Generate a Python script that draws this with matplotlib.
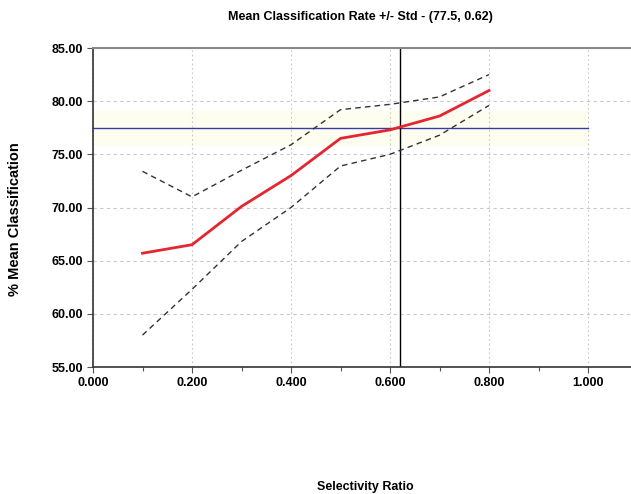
import matplotlib
matplotlib.use("Agg")
import matplotlib.pyplot as plt
from matplotlib.ticker import MultipleLocator, FormatStrFormatter

plt.rcParams['font.family'] = ['Liberation Sans', 'DejaVu Sans']

ratio = [0.1, 0.2, 0.3, 0.4, 0.5, 0.6, 0.7, 0.8]
mean_rate = [65.7, 66.5, 70.1, 73.0, 76.5, 77.3, 78.6, 81.0]
upper_std = [73.4, 71.0, 73.5, 75.9, 79.2, 79.7, 80.4, 82.5]
lower_std = [58.0, 62.3, 66.8, 70.0, 73.9, 75.0, 76.8, 79.6]
ref_rate = 77.5
ref_ratio = 0.62
band = 1.6
title = "Mean Classification Rate +/- Std - (77.5, 0.62)"

W, H = 631, 494
fig = plt.figure(figsize=(W/100, H/100), dpi=100)
left = 93 / W
bottom = 1 - 367 / H
top = 1 - 48 / H
width = 1.1 * 495 / W
ax = fig.add_axes([left, bottom, width, top - bottom])
ax.set_xlim(0, 1.1)
ax.set_ylim(55, 85)

ax.axhspan(ref_rate - band, ref_rate + band, xmin=0, xmax=1.0/1.1, color='#fdfdf0', zorder=0)
ax.plot([0, 1.0], [ref_rate, ref_rate], color='#3a3aa0', lw=1.0, zorder=2)
ax.axvline(ref_ratio, color='black', lw=1.0, zorder=2)

ax.plot(ratio, upper_std, color='#333333', lw=1.0, ls=(0, (4, 3)), zorder=3)
ax.plot(ratio, lower_std, color='#333333', lw=1.0, ls=(0, (4, 3)), zorder=3)
ax.plot(ratio, mean_rate, color='#e52530', lw=2.0, zorder=4)

ax.xaxis.set_major_locator(MultipleLocator(0.2))
ax.xaxis.set_minor_locator(MultipleLocator(0.1))
ax.yaxis.set_major_locator(MultipleLocator(5))
ax.xaxis.set_major_formatter(FormatStrFormatter('%.3f'))
ax.yaxis.set_major_formatter(FormatStrFormatter('%.2f'))

ax.grid(True, axis='y', color='#c8c8c8', ls=(0, (3, 3)), lw=0.8)
ax.grid(True, axis='x', color='#c8c8c8', ls=(0, (1.5, 2.5)), lw=0.8)

for lab in ax.get_xticklabels() + ax.get_yticklabels():
    lab.set_fontweight('bold')
    lab.set_fontsize(9)
ax.tick_params(axis='both', which='major', length=4, width=0.8, color='#555555', pad=3)
ax.tick_params(axis='x', which='minor', length=3, width=0.8, color='#555555')

ax.spines['right'].set_visible(False)
ax.spines['top'].set_color('#888888')
ax.spines['top'].set_linewidth(1.5)
ax.spines['left'].set_color('#333333')
ax.spines['bottom'].set_color('#333333')
ax.spines['left'].set_linewidth(1.2)
ax.spines['bottom'].set_linewidth(1.2)

fig.text(360 / W, 1 - 17 / H, title, ha='center', va='center', fontsize=9, fontweight='bold')
fig.text(365 / W, 1 - 487 / H, "Selectivity Ratio", ha='center', va='center', fontsize=9, fontweight='bold')
fig.text(15 / W, 1 - 219 / H, "% Mean Classification", ha='center', va='center', rotation=90, fontsize=10.5, fontweight='bold')

fig.savefig("out.png", dpi=100)
